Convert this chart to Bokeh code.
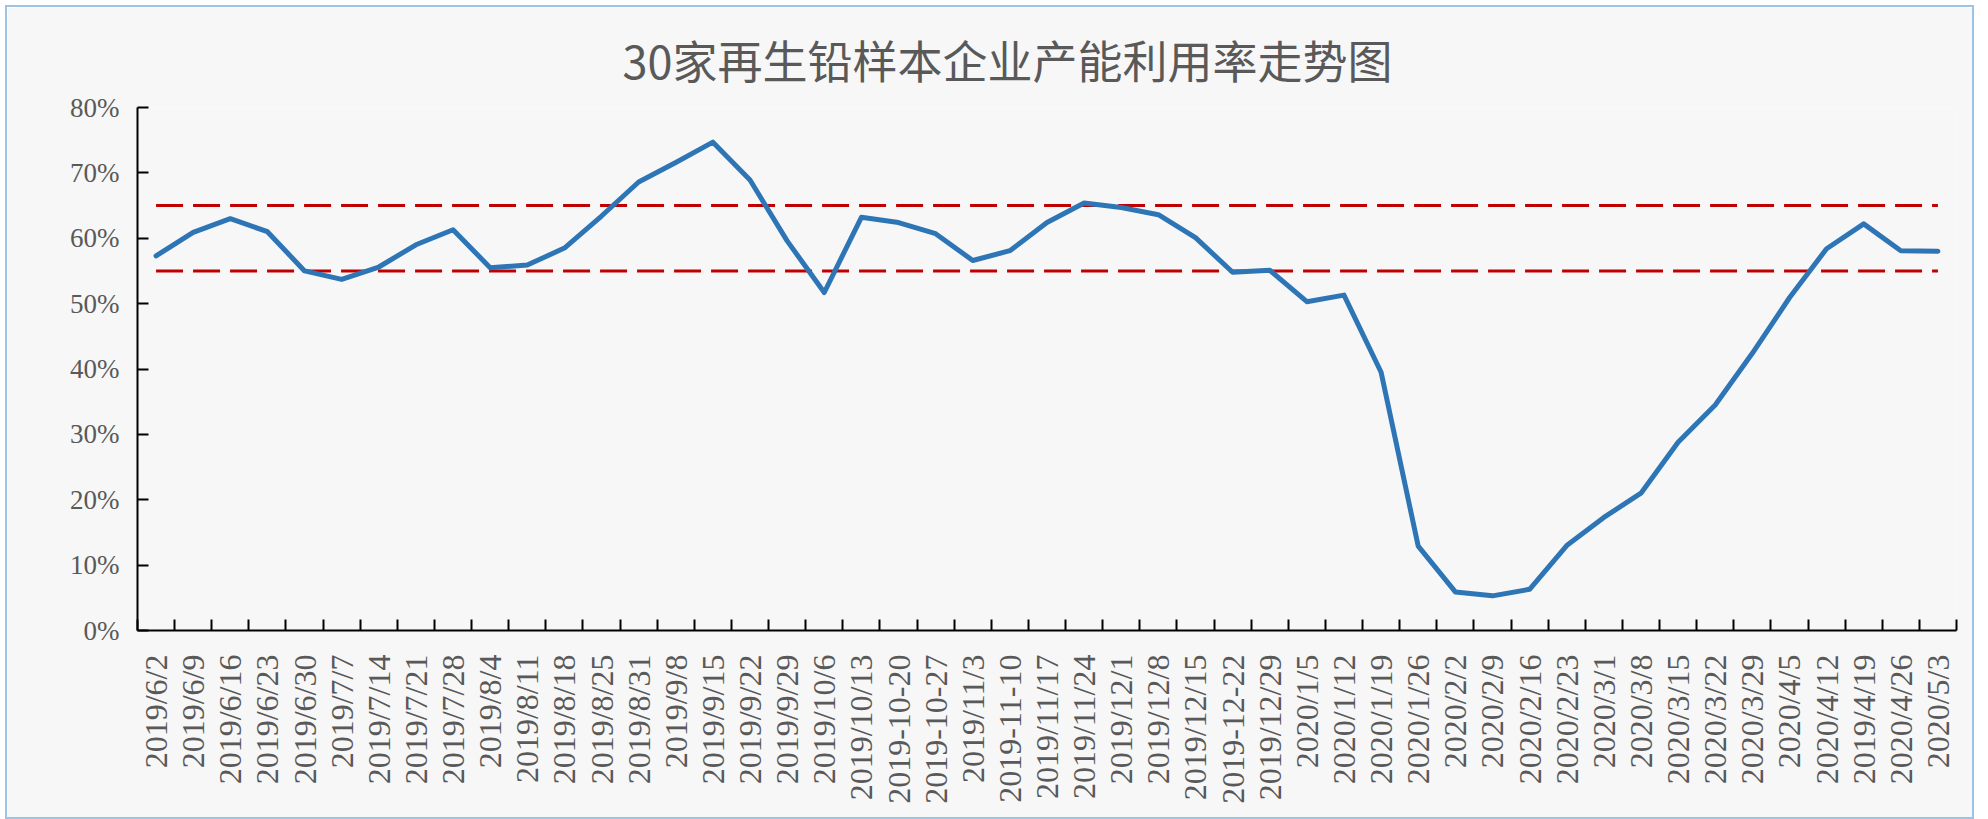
from bokeh.plotting import figure
from bokeh.models import Range1d, FixedTicker, PrintfTickFormatter, CustomJSTickFormatter, ColumnDataSource
from bokeh.embed import file_html
from bokeh.resources import INLINE
import math

# ---- data ----
dates = ["2019/6/2", "2019/6/9", "2019/6/16", "2019/6/23", "2019/6/30", "2019/7/7", "2019/7/14",
         "2019/7/21", "2019/7/28", "2019/8/4", "2019/8/11", "2019/8/18", "2019/8/25", "2019/8/31",
         "2019/9/8", "2019/9/15", "2019/9/22", "2019/9/29", "2019/10/6", "2019/10/13", "2019-10-20",
         "2019-10-27", "2019/11/3", "2019-11-10", "2019/11/17", "2019/11/24", "2019/12/1", "2019/12/8",
         "2019/12/15", "2019-12-22", "2019/12/29", "2020/1/5", "2020/1/12", "2020/1/19", "2020/1/26",
         "2020/2/2", "2020/2/9", "2020/2/16", "2020/2/23", "2020/3/1", "2020/3/8", "2020/3/15",
         "2020/3/22", "2020/3/29", "2020/4/5", "2020/4/12", "2019/4/19", "2020/4/26", "2020/5/3"]

utilization = [57.3, 60.9, 63.0, 61.0, 55.0, 53.7, 55.6, 59.0, 61.3, 55.5, 55.9, 58.5, 63.4,
               68.6, 71.6, 74.7, 68.9, 59.6, 51.7, 63.2, 62.4, 60.7, 56.6, 58.1, 62.4, 65.4,
               64.7, 63.6, 60.1, 54.8, 55.1, 50.3, 51.3, 39.5, 12.9, 5.9, 5.3, 6.3, 13.0,
               17.3, 21.0, 28.8, 34.5, 42.4, 50.9, 58.4, 62.2, 58.1, 58.0]

upper_band = 65
lower_band = 55
y_ticks = [0, 10, 20, 30, 40, 50, 60, 70, 80]
title_text = "30家再生铅样本企业产能利用率走势图"

# ---- layout ----
n = len(dates)
xs = [i + 0.5 for i in range(n)]
src = ColumnDataSource(dict(x=xs, y=utilization))

p = figure(width=1965, height=810, output_backend="svg", toolbar_location=None,
           x_range=Range1d(0, n), y_range=Range1d(0, 80),
           min_border_left=130, min_border_right=16, min_border_top=100, min_border_bottom=187,
           background_fill_color="#f7f7f7", border_fill_color="#f7f7f7",
           styles={"outline": "2px solid #9dc3e6", "margin": "7px 0px 0px 7px"})
p.outline_line_color = None
p.grid.visible = False

p.title.text = title_text
p.title.text_font = "Noto Sans CJK SC"
p.title.text_font_size = "45px"
p.title.text_font_style = "normal"
p.title.text_color = "#595959"
p.title.align = "left"
p.title.offset = 485
p.title.standoff = 32

# x axis: labels at category centres, ticks at category boundaries
xa = p.xaxis[0]
xa.ticker = FixedTicker(ticks=xs, minor_ticks=list(range(n + 1)))
xa.formatter = CustomJSTickFormatter(args=dict(labels=dates),
                                     code="const i = Math.floor(tick); return (i >= 0 && i < labels.length) ? labels[i] : '';")
xa.major_label_orientation = math.pi / 2
xa.major_label_text_font = "Liberation Serif"
xa.major_label_text_font_size = "32px"
xa.major_label_text_color = "#595959"
xa.major_label_standoff = 18
xa.major_tick_line_color = None
xa.minor_tick_line_color = "black"
xa.minor_tick_line_width = 2
xa.minor_tick_in = 11
xa.minor_tick_out = 0
xa.axis_line_color = "black"
xa.axis_line_width = 2

ya = p.yaxis[0]
ya.ticker = FixedTicker(ticks=y_ticks)
ya.formatter = PrintfTickFormatter(format="%d%%")
ya.major_label_text_font = "Liberation Serif"
ya.major_label_text_font_size = "27px"
ya.major_label_text_color = "#595959"
ya.major_label_standoff = 18
ya.major_tick_in = 11
ya.major_tick_out = 0
ya.major_tick_line_color = "black"
ya.major_tick_line_width = 2
ya.minor_tick_line_color = None
ya.axis_line_color = "black"
ya.axis_line_width = 2

# reference bands
for level in (upper_band, lower_band):
    p.line(x=[xs[0], xs[-1]], y=[level, level], line_color="#c00000", line_width=3,
           line_dash="27 10")

p.line("x", "y", source=src, line_color="#2e75b6", line_width=5, line_join="round",
       line_cap="round")

open("out.html", "w").write(file_html(p, INLINE))
